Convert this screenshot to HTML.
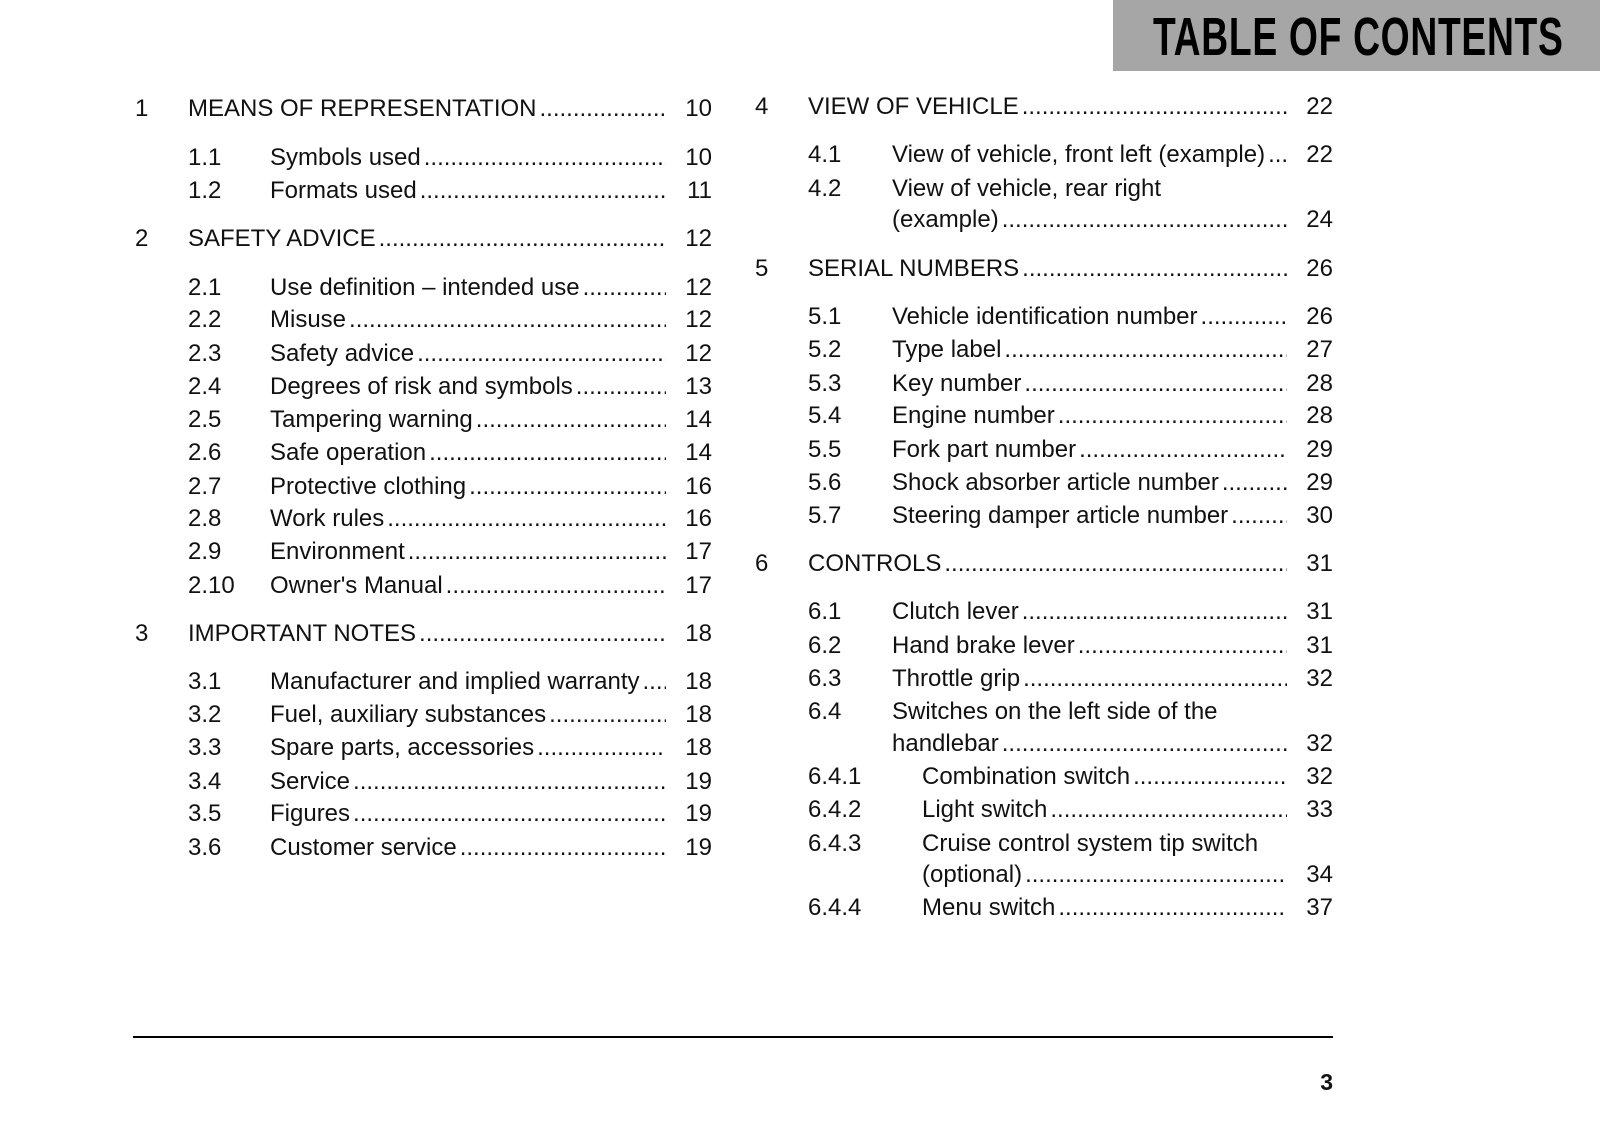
<!DOCTYPE html>
<html><head><meta charset="utf-8"><style>
body{margin:0;width:1600px;height:1132px;background:#fff;position:relative;overflow:hidden;font-family:"Liberation Sans",sans-serif;color:#111}
.hdr{position:absolute;left:1113px;top:0;width:487px;height:71px;background:#a6a6a6}
.hdr span{position:absolute;left:40px;top:7px;white-space:nowrap;font-weight:bold;font-size:54px;line-height:60px;color:#000;letter-spacing:1px;transform:scaleX(0.69);transform-origin:0 0}
.r{position:absolute;height:30px;font-size:24px;line-height:30px}
.n{position:absolute;left:0;top:0}
.t{position:absolute;top:0;right:0;display:flex;white-space:nowrap}
.d{flex:1;overflow:hidden;white-space:nowrap;padding-left:3px}
.p{width:46px;text-align:right}
.line{position:absolute;left:133px;top:1036px;width:1200px;height:2px;background:#000}
.pg{position:absolute;left:1300px;top:1069px;width:33px;text-align:right;font-weight:bold;font-size:23px}
</style></head><body>
<div class="hdr"><span>TABLE OF CONTENTS</span></div>
<div id="c"></div>
<div class="line"></div>
<div class="pg">3</div>
<script>
const D='.'.repeat(200);
const L=[[108,0,'1','MEANS OF REPRESENTATION','10'],[157,1,'1.1','Symbols used','10'],[190,1,'1.2','Formats used','11'],[238,0,'2','SAFETY ADVICE','12'],[287,1,'2.1','Use definition – intended use','12'],[319,1,'2.2','Misuse','12'],[353,1,'2.3','Safety advice','12'],[386,1,'2.4','Degrees of risk and symbols','13'],[419,1,'2.5','Tampering warning','14'],[452,1,'2.6','Safe operation','14'],[486,1,'2.7','Protective clothing','16'],[518,1,'2.8','Work rules','16'],[551,1,'2.9','Environment','17'],[585,1,'2.10','Owner\'s Manual','17'],[633,0,'3','IMPORTANT NOTES','18'],[681,1,'3.1','Manufacturer and implied warranty','18'],[714,1,'3.2','Fuel, auxiliary substances','18'],[747,1,'3.3','Spare parts, accessories','18'],[781,1,'3.4','Service','19'],[813,1,'3.5','Figures','19'],[847,1,'3.6','Customer service','19']];
const R=[[106,0,'4','VIEW OF VEHICLE','22'],[154,1,'4.1','View of vehicle, front left (example)','22'],[188,1,'4.2','View of vehicle, rear right',null],[219,1,'','(example)','24'],[268,0,'5','SERIAL NUMBERS','26'],[316,1,'5.1','Vehicle identification number','26'],[349,1,'5.2','Type label','27'],[383,1,'5.3','Key number','28'],[415,1,'5.4','Engine number','28'],[449,1,'5.5','Fork part number','29'],[482,1,'5.6','Shock absorber article number','29'],[515,1,'5.7','Steering damper article number','30'],[563,0,'6','CONTROLS','31'],[611,1,'6.1','Clutch lever','31'],[645,1,'6.2','Hand brake lever','31'],[678,1,'6.3','Throttle grip','32'],[711,1,'6.4','Switches on the left side of the',null],[743,1,'','handlebar','32'],[776,2,'6.4.1','Combination switch','32'],[809,2,'6.4.2','Light switch','33'],[843,2,'6.4.3','Cruise control system tip switch',null],[874,2,'','(optional)','34'],[907,2,'6.4.4','Menu switch','37']];
let h='';
function add(rows,left,w,offs){for(const [y,lv,n,t,p] of rows){const no=lv?53:0;const to=offs[lv];
h+=`<div class="r" style="top:${y-14}px;left:${left}px;width:${w}px"><span class="n" style="left:${no}px">${n}</span><div class="t" style="left:${to}px"><span>${t}</span>`+(p?`<span class="d">${D}</span><span class="p">${p}</span>`:'')+`</div></div>`;}}
add(L,135,577,[53,135,135]);add(R,755,578,[53,137,167]);
document.getElementById('c').innerHTML=h;
</script>
</body></html>
